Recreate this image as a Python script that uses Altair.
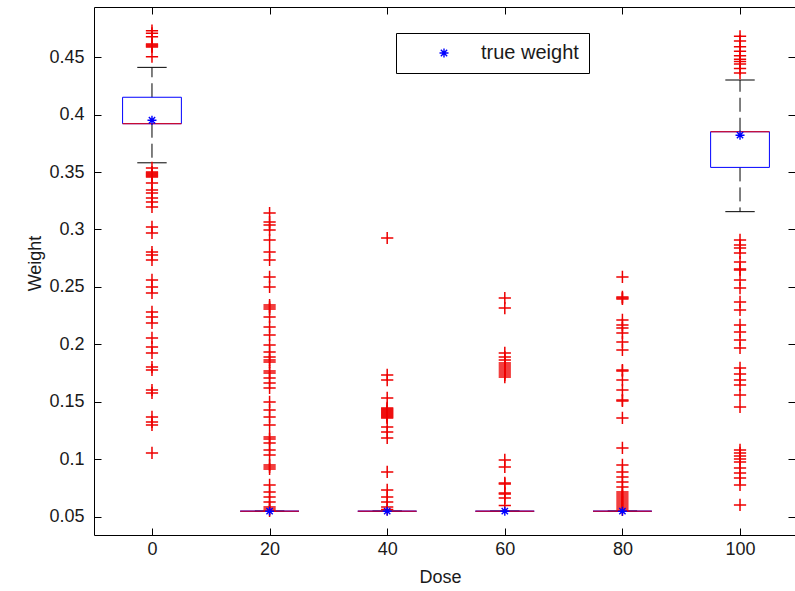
import altair as alt
import pandas as pd

# Box-plot summary per dose group
doses = [0, 20, 40, 60, 80, 100]
q1 = [0.392, 0.055, 0.055, 0.055, 0.055, 0.354]
medians = [0.392, 0.055, 0.055, 0.055, 0.055, 0.385]
q3 = [0.415, 0.055, 0.055, 0.055, 0.055, 0.385]
whisker_lo = [0.358, 0.055, 0.055, 0.055, 0.055, 0.3155]
whisker_hi = [0.441, 0.055, 0.055, 0.055, 0.055, 0.430]
true_weight = [0.395, 0.055, 0.055, 0.055, 0.055, 0.382]

# Outlying estimates per dose group
outliers_0 = [0.4729, 0.4706, 0.4677, 0.4613, 0.4604, 0.4596, 0.4588, 0.4503,
              0.3535, 0.3500, 0.3491, 0.3483, 0.3474, 0.3465, 0.3457, 0.3404,
              0.3343, 0.3317, 0.3274, 0.3239, 0.3196, 0.3022, 0.2970, 0.2804,
              0.2778, 0.2735, 0.2561, 0.2500, 0.2448, 0.2283, 0.2239, 0.2187,
              0.2057, 0.1978, 0.1926, 0.1804, 0.1778, 0.1604, 0.1578, 0.1370,
              0.1326, 0.1300, 0.1057]
outliers_20 = [0.3143, 0.3065, 0.3039, 0.2996, 0.2909, 0.2804, 0.2735, 0.2587,
               0.2500, 0.2343, 0.2326, 0.2309, 0.2239, 0.2152, 0.2083, 0.1996,
               0.1935, 0.1891, 0.1865, 0.1848, 0.1770, 0.1752, 0.1709, 0.1665,
               0.1622, 0.1500, 0.1430, 0.1370, 0.1300, 0.1196, 0.1178, 0.1143,
               0.1083, 0.1039, 0.0952, 0.0935, 0.0917, 0.0778, 0.0717, 0.0674,
               0.0630, 0.0587, 0.0570, 0.0552]
outliers_40 = [0.2926, 0.1735, 0.1691, 0.1535, 0.1448, 0.1439, 0.1430, 0.1422,
               0.1413, 0.1404, 0.1396, 0.1387, 0.1378, 0.1369, 0.1361, 0.1283,
               0.1239, 0.1187, 0.0891, 0.0735, 0.0674, 0.0630, 0.0587, 0.0565]
outliers_60 = [0.2404, 0.2317, 0.1926, 0.1891, 0.1865, 0.1839, 0.1822, 0.1804,
               0.1787, 0.1770, 0.1752, 0.1735, 0.1717, 0.0996, 0.0935, 0.0796,
               0.0787, 0.0709, 0.0700, 0.0665, 0.0600]
outliers_80 = [0.2587, 0.2413, 0.2404, 0.2396, 0.2213, 0.2170, 0.2143, 0.2100,
               0.2022, 0.1952, 0.1778, 0.1770, 0.1691, 0.1604, 0.1517, 0.1509,
               0.1361, 0.1100, 0.0952, 0.0891, 0.0848, 0.0804, 0.0761, 0.0717,
               0.0700, 0.0683, 0.0665, 0.0648, 0.0630, 0.0613, 0.0596, 0.0578,
               0.0561]
outliers_100 = [0.4680, 0.4640, 0.4590, 0.4550, 0.4510, 0.4480, 0.4460, 0.4440,
                0.4400, 0.4360, 0.2909, 0.2865, 0.2839, 0.2796, 0.2717, 0.2657,
                0.2648, 0.2561, 0.2491, 0.2370, 0.2300, 0.2170, 0.2109, 0.2039,
                0.1970, 0.1796, 0.1743, 0.1691, 0.1648, 0.1561, 0.1457, 0.1083,
                0.1057, 0.1030, 0.1004, 0.0978, 0.0926, 0.0883, 0.0839, 0.0778,
                0.0604]

y_ticks = [0.05, 0.1, 0.15, 0.2, 0.25, 0.3, 0.35, 0.4, 0.45]

stats = pd.DataFrame({
    "dose": doses, "q1": q1, "median": medians, "q3": q3,
    "lo": whisker_lo, "hi": whisker_hi, "truth": true_weight,
})
groups = [outliers_0, outliers_20, outliers_40, outliers_60, outliers_80, outliers_100]
out_df = pd.DataFrame(
    [(d, w) for d, ws in zip(doses, groups) for w in ws], columns=["dose", "weight"]
)

FONT = "Liberation Sans"
FS = 18
TXT = "#1a1a1a"
RED = "#ee0000"
BLUE = "#0000ff"
PLUS = "M-1,0L1,0M0,-1L0,1"
STAR = "M-1,0L1,0M0,-1L0,1M-0.7,-0.7L0.7,0.7M-0.7,0.7L0.7,-0.7"
BOX_HALF = 5      # half box width in dose units
CAP_HALF = 2.5    # half whisker-cap width in dose units

xs = alt.Scale(domain=[-9.86, 109.35], nice=False, zero=False)
ys = alt.Scale(domain=[0.0343, 0.4935], nice=False, zero=False)

# Ticks point inward: shift each axis inside the frame by its tick length
tick_common = dict(offset=-7, tickSize=7, domain=False, grid=False,
                   tickColor="black", labelFont=FONT, labelFontSize=FS,
                   labelColor=TXT, titleFont=FONT, titleFontSize=FS,
                   titleFontWeight="normal", titleColor=TXT)

x_bottom = alt.Axis(orient="bottom", values=doses, format="d", labelPadding=5,
                    title="Dose", titleX=346, titleY=49, titleAlign="center",
                    titleBaseline="middle", **tick_common)
x_top = alt.Axis(orient="top", values=doses, labels=False, title=None, **tick_common)
y_left = alt.Axis(orient="left", values=y_ticks, format="~g", labelPadding=10,
                  title="Weight", titleX=-66, titleY=256, titleAngle=-90,
                  titleAlign="center", titleBaseline="middle", **tick_common)
y_right = alt.Axis(orient="right", values=y_ticks, labels=False, title=None,
                   **tick_common)

base = alt.Chart(stats)

upper_whisker = base.mark_rule(color="black", strokeWidth=1, strokeDash=[14, 6]).encode(
    x=alt.X("dose:Q", scale=xs, axis=None),
    y=alt.Y("q3:Q", scale=ys, axis=None),
    y2="hi:Q",
)
lower_whisker = base.mark_rule(color="black", strokeWidth=1, strokeDash=[14, 6]).encode(
    x=alt.X("dose:Q", scale=xs, axis=None),
    y=alt.Y("q1:Q", scale=ys, axis=None),
    y2="lo:Q",
)
caps = base.transform_fold(["lo", "hi"], as_=["end", "w"]).transform_calculate(
    xa=f"datum.dose - {CAP_HALF}", xb=f"datum.dose + {CAP_HALF}"
).mark_rule(color="black", strokeWidth=1).encode(
    x=alt.X("xa:Q", scale=xs, axis=None), x2="xb:Q",
    y=alt.Y("w:Q", scale=ys, axis=None),
)
boxes = base.transform_calculate(
    xa=f"datum.dose - {BOX_HALF}", xb=f"datum.dose + {BOX_HALF}"
).mark_rect(fill=None, stroke=BLUE, strokeWidth=1).encode(
    x=alt.X("xa:Q", scale=xs, axis=None), x2="xb:Q",
    y=alt.Y("q1:Q", scale=ys, axis=None), y2="q3:Q",
)
median_lines = base.transform_calculate(
    xa=f"datum.dose - {BOX_HALF}", xb=f"datum.dose + {BOX_HALF}"
).mark_rule(color=RED, strokeWidth=1).encode(
    x=alt.X("xa:Q", scale=xs, axis=None), x2="xb:Q",
    y=alt.Y("median:Q", scale=ys, axis=None),
)
outlier_pts = alt.Chart(out_df).mark_point(
    shape=PLUS, filled=False, color=RED, strokeWidth=1.5, size=150, opacity=1
).encode(
    x=alt.X("dose:Q", scale=xs, axis=x_bottom),
    y=alt.Y("weight:Q", scale=ys, axis=y_left),
)
truth_pts = base.transform_calculate(label="'true weight'").mark_point(
    shape=STAR, filled=False, strokeWidth=1.4, size=81, opacity=1
).encode(
    x=alt.X("dose:Q", scale=xs, axis=x_top),
    y=alt.Y("truth:Q", scale=ys, axis=y_right),
    color=alt.Color("label:N", scale=alt.Scale(range=[BLUE]),
                    legend=alt.Legend(
                        orient="none", legendX=302, legendY=26, title=None,
                        strokeColor="black", fillColor="white", padding=10,
                        symbolType=STAR, symbolSize=81, symbolStrokeWidth=1.4,
                        symbolOffset=28, labelOffset=27, labelFont=FONT,
                        labelFontSize=20, labelColor=TXT,
                    )),
)

chart = alt.layer(
    upper_whisker, lower_whisker, caps, boxes, median_lines, outlier_pts, truth_pts
).resolve_axis(x="independent", y="independent").properties(
    width=701, height=528,
    autosize=alt.AutoSizeParams(type="none"),
    padding={"left": 94, "top": 7, "right": 0, "bottom": 56},
    background="white",
).configure_view(stroke="black", strokeWidth=1)

chart.save("out.html", embed_options={"renderer": "svg", "actions": False})
